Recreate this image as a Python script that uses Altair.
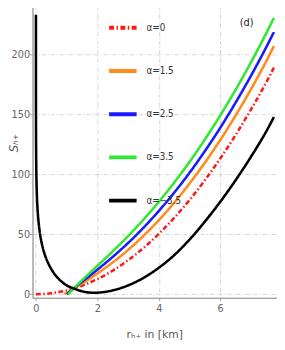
import altair as alt
import pandas as pd

labels = ["α=0", "α=1.5", "α=2.5", "α=3.5", "α=−3.5"]
colors = ["#ff1a1a", "#ff8c1a", "#1a1aff", "#33e633", "#000000"]
dashes = [[5, 2.5, 1.5, 2.5], [1, 0], [1, 0], [1, 0], [1, 0]]

r_red = [0, 0.25, 0.5, 0.75, 1.0, 1.25, 1.5, 2.0, 2.5, 3.0, 3.5, 4.0, 4.5, 5.0, 5.5, 6.0, 6.5, 7.0, 7.5, 7.75]
s_red = [0, 0.2, 0.8, 1.8, 3.1, 4.9, 7.1, 12.6, 19.6, 28.3, 38.5, 50.3, 63.6, 78.5, 95.0, 113.1, 132.7, 153.9, 176.7, 189.0]

r_orange = [0.93, 1.0, 1.1, 1.23, 1.5, 2.0, 2.5, 3.0, 3.5, 4.0, 4.5, 5.0, 5.5, 6.0, 6.5, 7.0, 7.5, 7.75]
s_orange = [0, 1.1, 2.7, 4.8, 9.0, 17.3, 26.5, 36.9, 48.6, 61.7, 76.2, 92.2, 109.6, 128.5, 148.9, 170.8, 194.3, 207.0]

r_blue = [1.01, 1.1, 1.23, 1.5, 2.0, 2.5, 3.0, 3.5, 4.0, 4.5, 5.0, 5.5, 6.0, 6.5, 7.0, 7.5, 7.75]
s_blue = [0, 2.0, 4.8, 10.3, 20.4, 31.1, 42.7, 55.4, 69.4, 84.6, 101.2, 119.3, 138.7, 159.7, 182.1, 206.0, 218.7]

r_green = [1.05, 1.1, 1.23, 1.5, 2.0, 2.5, 3.0, 3.5, 4.0, 4.5, 5.0, 5.5, 6.0, 6.5, 7.0, 7.5, 7.75]
s_green = [0, 1.3, 4.8, 11.6, 23.6, 35.7, 48.5, 62.2, 77.0, 93.0, 110.3, 129.0, 149.0, 170.4, 193.3, 217.7, 230.5]

r_black = [0.00004, 0.0003, 0.002, 0.01, 0.03, 0.06, 0.1, 0.15, 0.2, 0.3, 0.4, 0.5, 0.6, 0.8, 1.0, 1.23,
           1.5, 1.9, 2.5, 3.0, 3.5, 4.0, 4.5, 5.0, 5.5, 6.0, 6.5, 7.0, 7.5, 7.75]
s_black = [233, 188, 145, 109, 84, 68.4, 56.9, 47.7, 41.3, 32.2, 25.9, 21.0, 17.0, 11.3, 7.4, 4.8,
           2.4, 1.2, 3.2, 7.3, 13.6, 22.0, 32.5, 45.5, 60.5, 77.0, 95.0, 114.5, 135.8, 147.8]

x_ticks = [0, 2, 4, 6]
y_ticks = [0, 50, 100, 150, 200]

rows = []
for lab, rs, ss in zip(labels,
                       [r_red, r_orange, r_blue, r_green, r_black],
                       [s_red, s_orange, s_blue, s_green, s_black]):
    for r, s in zip(rs, ss):
        rows.append({"series": lab, "r": r, "S": s})
df = pd.DataFrame(rows)

narrow = "Liberation Sans Narrow, DejaVu Sans Condensed, Liberation Sans"
leg = alt.Legend(
    title=None, orient="none", legendX=76, legendY=7, symbolType="stroke",
    symbolSize=784, symbolStrokeWidth=4, rowPadding=20, labelFontSize=10,
    labelFont=narrow, labelColor="#333333", labelOffset=8, padding=0,
)

lines = alt.Chart(df).mark_line(strokeWidth=2.6, clip=True, interpolate="monotone").encode(
    x=alt.X("r:Q", scale=alt.Scale(domain=[-0.11, 7.85], nice=False, zero=False),
            axis=alt.Axis(values=x_ticks, title="rₕ₊ in [km]", titleFont="DejaVu Sans",
                          titleFontSize=11, titleFontWeight="normal", titleColor="#555555",
                          titleX=124, titleY=40, titleBaseline="alphabetic",
                          labelFont=narrow, labelFontSize=11, labelColor="#666666",
                          tickSize=3, labelPadding=2, domainColor="#a0a0a0", tickColor="#a0a0a0",
                          gridColor="#c8c8c8", gridDash=[4, 2, 1, 2], gridWidth=0.8)),
    y=alt.Y("S:Q", scale=alt.Scale(domain=[-3, 241], nice=False, zero=False),
            axis=alt.Axis(values=y_ticks, title="Sₕ₊", titleFont="DejaVu Sans",
                          titleFontSize=12, titleFontWeight="normal", titleFontStyle="italic",
                          titleColor="#555555",
                          titleX=-15, titleY=140, titleBaseline="alphabetic", titleAngle=270,
                          labelFont=narrow, labelFontSize=11, labelColor="#666666",
                          tickSize=3, labelPadding=0, domainColor="#a0a0a0", tickColor="#a0a0a0",
                          gridColor="#c8c8c8", gridDash=[4, 2, 1, 2], gridWidth=0.8)),
    color=alt.Color("series:N", scale=alt.Scale(domain=labels, range=colors), legend=leg),
    strokeDash=alt.StrokeDash("series:N", scale=alt.Scale(domain=labels, range=dashes), legend=leg),
)

panel_label = alt.Chart(pd.DataFrame({"t": ["(d)"]})).mark_text(
    fontSize=11, font=narrow, color="#222222"
).encode(x=alt.value(218), y=alt.value(18), text="t:N")

chart = alt.layer(lines, panel_label).properties(
    width=249, height=298,
    autosize=alt.AutoSizeParams(type="none"),
    padding={"left": 25, "top": -6, "right": 0, "bottom": 50},
).configure_view(stroke="#a0a0a0")

chart.save("out.html", embed_options={"renderer": "svg", "actions": False})
